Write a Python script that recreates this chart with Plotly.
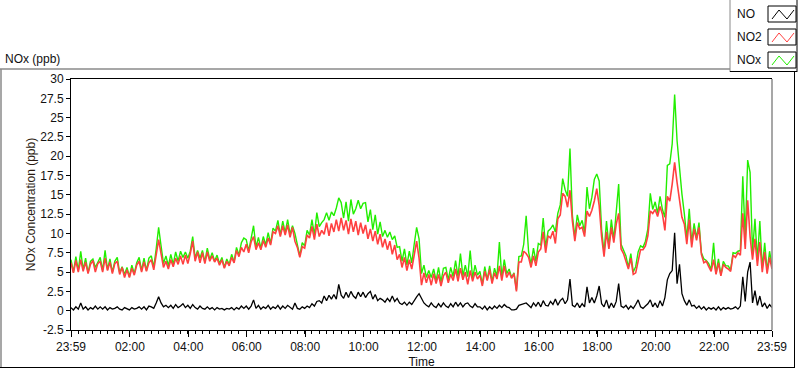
import pandas as pd
import plotly.graph_objects as go

# ---------------- data (5-minute readings, 23:59 -> 23:59) ----------------
start_time = "2013-01-01 23:59"
n_points = 289

no_ppb = [
    0.4, 0.1, 0.5, 0.2, 1.0, 0.2, 0.5, 0.1, 0.4, 0.2, 0.6, 0.2,
    0.5, 0.2, 0.5, 0.1, 0.4, 0.2, 0.3, 0.5, 0.2, 0.1, 0.4, 0.3,
    0.1, 0.4, 0.2, 0.3, 0.5, 0.2, 0.5, 0.1, 0.6, 0.5, 0.3, 1.0,
    1.8, 1.0, 0.5, 0.7, 0.4, 0.7, 0.3, 0.8, 0.4, 0.6, 0.9, 0.4,
    0.7, 0.3, 0.8, 0.4, 0.2, 0.6, 0.3, 0.2, 0.5, 0.2, 0.4, 0.1,
    0.4, 0.2, 0.3, 0.1, 0.3, 0.2, 0.4, 0.1, 0.4, 0.2, 0.6, 0.3,
    0.6, 0.2, 0.6, 1.4, 0.3, 0.7, 0.2, 0.5, 0.3, 0.7, 0.2, 0.5,
    0.3, 0.7, 0.2, 0.6, 0.3, 0.7, 0.4, 0.2, 1.0, 0.3, 0.2, 0.5,
    0.3, 0.6, 0.4, 0.9, 0.6, 1.2, 1.3, 1.0, 1.9, 1.3, 2.0, 1.5,
    2.1, 1.5, 3.4, 2.0, 1.6, 2.4, 1.7, 2.5, 1.9, 1.6, 2.4, 1.8,
    2.4, 1.7, 2.2, 2.5, 1.5, 2.1, 1.3, 1.6, 1.4, 1.1, 1.6, 1.2,
    1.9, 1.2, 1.6, 1.0, 0.8, 1.1, 0.7, 1.1, 0.8, 1.4, 1.8, 2.2,
    1.5, 1.0, 0.7, 0.5, 1.0, 0.6, 0.4, 0.9, 0.5, 1.0, 0.6, 0.4,
    0.9, 0.5, 1.1, 0.6, 1.0, 0.5, 0.9, 1.0, 0.6, 0.4, 0.9, 0.5,
    0.5, 0.2, 0.6, 0.1, 0.5, 0.2, 0.6, 0.3, 0.7, 0.4, 0.8, 0.5,
    0.4, 0.1, 0.1, 0.2, 0.7, 0.8, 0.9, 1.0, 0.7, 0.4, 1.0, 0.6,
    1.1, 0.5, 1.3, 0.7, 0.6, 1.2, 0.8, 1.5, 0.7, 1.3, 1.6, 0.9,
    1.4, 4.1, 0.7, 0.5, 1.0, 0.4, 0.9, 0.5, 3.1, 1.0, 1.7, 1.0,
    1.9, 3.2, 0.9, 0.5, 1.4, 0.3, 1.0, 0.4, 1.2, 3.5, 0.6, 0.4,
    0.7, 0.2, 0.6, 0.3, 0.8, 1.4, 0.5, 0.3, 0.6, 0.9, 1.4, 0.5,
    1.0, 0.4, 1.3, 0.6, 1.7, 4.0, 4.8, 5.2, 10.1, 3.5, 6.0, 2.2,
    1.3, 0.7, 1.4, 0.6, 0.7, 0.3, 0.6, 0.2, 0.5, 0.1, 0.4, 0.2,
    0.4, 0.1, 0.5, 0.1, 0.4, 0.2, 0.4, 0.2, 0.3, 0.5, 0.2, 0.6,
    4.4, 1.2, 5.0, 6.3, 1.0, 2.6, 0.7, 1.9, 0.5, 1.0, 0.3, 0.8,
    0.4,
]

no2_ppb = [
    6.2, 4.9, 6.5, 5.0, 6.6, 5.1, 6.3, 4.8, 6.0, 6.5, 5.0, 6.1,
    6.4, 5.0, 6.8, 5.2, 6.3, 4.8, 6.1, 6.4, 4.7, 5.6, 4.3, 5.3,
    4.3, 5.5, 4.6, 5.9, 6.4, 5.0, 6.3, 5.1, 6.2, 6.6, 5.3, 7.0,
    9.2, 7.4, 5.6, 6.4, 5.4, 6.6, 5.7, 6.8, 6.0, 7.1, 6.0, 7.2,
    6.1, 7.4, 9.0, 6.4, 7.6, 6.2, 7.5, 6.1, 7.6, 6.4, 7.1, 6.3,
    6.8, 5.9, 6.6, 5.5, 6.4, 5.8, 6.9, 6.2, 7.8, 7.0, 8.2, 7.6,
    8.6, 7.5, 8.9, 9.6, 7.9, 8.8, 7.9, 9.1, 8.2, 9.4, 8.5, 10.2,
    10.0, 11.0, 9.6, 11.0, 9.8, 11.1, 9.5, 10.8, 9.0, 8.2, 6.9, 8.3,
    8.1, 9.8, 9.4, 10.9, 9.2, 11.2, 9.6, 10.4, 9.9, 11.4, 9.7, 11.3,
    10.2, 11.8, 10.3, 12.0, 10.4, 11.7, 9.9, 11.9, 10.2, 11.6, 9.8, 11.4,
    10.0, 11.1, 9.3, 10.6, 9.0, 10.3, 8.6, 9.9, 8.2, 9.3, 7.9, 9.0,
    7.3, 8.5, 6.6, 7.3, 5.6, 6.9, 5.2, 6.6, 5.4, 7.2, 9.0, 6.8,
    3.3, 4.9, 3.6, 4.7, 3.3, 4.8, 3.5, 4.7, 3.2, 4.5, 5.0, 3.6,
    4.7, 3.9, 5.4, 3.8, 5.5, 4.0, 5.0, 3.4, 5.2, 3.8, 5.0, 4.1,
    4.6, 3.2, 5.1, 3.9, 5.3, 3.5, 4.9, 4.1, 5.8, 3.9, 5.8, 4.3,
    5.0, 4.2, 4.8, 2.5, 6.3, 6.3, 7.7, 7.4, 6.9, 5.6, 7.1, 5.8,
    7.6, 8.0, 10.2, 7.5, 9.7, 9.4, 10.3, 8.7, 11.9, 12.4, 15.2, 14.8,
    13.4, 15.6, 11.6, 9.0, 11.4, 10.6, 10.8, 9.6, 12.9, 12.2, 13.0, 14.2,
    15.8, 13.6, 9.6, 7.0, 10.2, 8.0, 10.8, 8.8, 11.2, 12.6, 8.0, 7.4,
    6.4, 5.4, 6.8, 4.7, 4.9, 6.2, 7.9, 7.9, 8.4, 9.7, 12.9, 12.6,
    13.1, 12.2, 13.5, 12.5, 10.4, 14.8, 14.2, 16.4, 19.2, 16.6, 14.3, 12.1,
    11.2, 8.6, 11.8, 8.2, 10.6, 9.1, 10.8, 7.3, 6.2, 6.4, 5.7, 5.1,
    6.6, 4.7, 6.2, 4.5, 6.0, 5.6, 5.4, 5.1, 7.2, 6.9, 7.5, 7.2,
    12.6, 8.0, 14.3, 9.6, 6.6, 9.3, 5.8, 8.9, 5.0, 7.6, 4.8, 6.9,
    5.4,
]

nox_ppb = [
    6.6, 5.0, 7.0, 5.2, 7.7, 5.3, 6.8, 4.9, 6.4, 6.7, 5.6, 6.3,
    6.9, 5.2, 7.8, 5.3, 6.7, 5.0, 6.4, 6.9, 4.9, 5.7, 4.7, 5.6,
    4.4, 5.9, 4.8, 6.2, 6.9, 5.2, 6.8, 5.2, 6.8, 7.1, 5.6, 8.0,
    10.8, 8.4, 6.1, 7.1, 5.8, 7.3, 6.0, 7.6, 6.4, 7.7, 6.9, 7.6,
    6.8, 7.7, 9.6, 6.8, 7.8, 6.8, 7.8, 6.3, 8.1, 6.6, 7.5, 6.4,
    7.2, 6.1, 6.9, 5.6, 6.7, 6.0, 7.3, 6.3, 8.2, 7.2, 8.8, 9.4,
    9.2, 7.7, 9.5, 11.0, 8.2, 9.5, 8.1, 9.6, 8.5, 10.1, 8.7, 10.7,
    10.3, 11.7, 9.8, 11.6, 10.1, 11.8, 9.9, 11.0, 10.0, 8.5, 7.1, 8.8,
    8.4, 10.4, 9.8, 11.8, 9.8, 12.7, 10.9, 11.4, 11.8, 12.7, 11.7, 12.8,
    12.3, 13.3, 14.6, 14.0, 12.0, 14.1, 11.6, 14.4, 12.5, 13.2, 14.3, 13.2,
    13.9, 14.0, 11.5, 13.1, 10.5, 12.4, 9.9, 11.5, 9.6, 10.4, 9.5, 10.2,
    9.2, 9.7, 8.2, 8.3, 6.4, 8.0, 5.9, 7.7, 6.2, 8.6, 10.8, 9.3,
    4.8, 5.9, 4.3, 5.2, 4.3, 5.4, 3.9, 5.6, 3.7, 5.5, 5.6, 4.0,
    5.6, 4.4, 6.5, 4.4, 7.4, 4.5, 5.9, 4.4, 7.8, 4.2, 5.9, 4.6,
    5.1, 3.4, 5.7, 4.0, 5.8, 3.7, 5.5, 4.4, 8.9, 4.3, 6.6, 4.8,
    5.4, 4.3, 4.9, 2.7, 7.0, 7.1, 8.6, 12.3, 7.6, 6.0, 8.1, 6.4,
    8.7, 8.5, 12.0, 8.2, 10.3, 10.6, 11.1, 10.2, 12.6, 13.7, 17.1, 15.7,
    14.8, 21.0, 12.3, 9.5, 12.4, 11.0, 11.7, 10.1, 16.0, 13.2, 14.7, 17.0,
    17.7, 16.8, 10.5, 7.5, 11.6, 8.3, 11.8, 9.2, 12.4, 16.4, 8.6, 7.8,
    7.1, 5.6, 7.4, 5.0, 5.7, 7.6, 8.4, 8.2, 9.0, 10.6, 15.2, 13.1,
    14.1, 12.6, 14.8, 13.1, 12.1, 18.8, 19.0, 21.6, 28.0, 22.0, 18.0, 15.1,
    12.5, 9.3, 13.2, 8.8, 11.3, 9.4, 11.4, 7.5, 6.7, 6.5, 6.1, 5.3,
    8.8, 4.8, 6.7, 4.6, 6.4, 5.8, 5.8, 5.3, 7.5, 7.4, 7.7, 7.8,
    17.4, 9.2, 19.5, 17.9, 7.6, 11.9, 6.5, 11.6, 5.5, 8.8, 5.1, 7.7,
    5.8,
]

tick_times = ["2013-01-01 23:59", "2013-01-02 02:00", "2013-01-02 04:00", "2013-01-02 06:00",
              "2013-01-02 08:00", "2013-01-02 10:00", "2013-01-02 12:00", "2013-01-02 14:00",
              "2013-01-02 16:00", "2013-01-02 18:00", "2013-01-02 20:00", "2013-01-02 22:00",
              "2013-01-02 23:59"]
tick_labels = ["23:59", "02:00", "04:00", "06:00", "08:00", "10:00", "12:00", "14:00",
               "16:00", "18:00", "20:00", "22:00", "23:59"]
y_ticks = [-2.5, 0, 2.5, 5, 7.5, 10, 12.5, 15, 17.5, 20, 22.5, 25, 27.5, 30]
y_tick_labels = ["-2.5", "0", "2.5", "5", "7.5", "10", "12.5", "15", "17.5", "20",
                 "22.5", "25", "27.5", "30"]

series_names = ["NO", "NO2", "NOx"]
series_colors = ["#000000", "#FF4040", "#22EE00"]

times = pd.date_range(start_time, periods=n_points, freq="5min")

# ---------------- figure ----------------
W, H = 800, 369
L, R, T, B = 71, 772, 79, 330


def px(xp):
    return (xp - L) / (R - L)


def py(yp):
    return (B - yp) / (B - T)


FONT = "Liberation Sans"
TXT = "#111111"

fig = go.Figure()
# draw NOx first, then NO2, then NO on top
for name, vals, col, lw in [("NOx", nox_ppb, series_colors[2], 1.4),
                            ("NO2", no2_ppb, series_colors[1], 1.6),
                            ("NO", no_ppb, series_colors[0], 1.3)]:
    fig.add_trace(go.Scatter(x=times, y=vals, name=name, mode="lines",
                             line=dict(color=col, width=lw), showlegend=False))

shapes = []
# outer panel frame (sunken look)
shapes.append(dict(type="line", xref="paper", yref="paper", x0=px(0), x1=px(730), y0=py(69), y1=py(69),
                   line=dict(color="#8a8a8a", width=1.5)))
shapes.append(dict(type="line", xref="paper", yref="paper", x0=px(1), x1=px(1), y0=py(69), y1=py(368),
                   line=dict(color="#8a8a8a", width=1.5)))
shapes.append(dict(type="line", xref="paper", yref="paper", x0=px(0), x1=px(795), y0=py(367.5), y1=py(367.5),
                   line=dict(color="#000000", width=1)))
shapes.append(dict(type="line", xref="paper", yref="paper", x0=px(794.5), x1=px(794.5), y0=py(72), y1=py(368),
                   line=dict(color="#000000", width=1)))
# plot area right edge (gray)
shapes.append(dict(type="line", xref="paper", yref="paper", x0=1, x1=1, y0=0, y1=1,
                   line=dict(color="#8a8a8a", width=1.5)))

# legend box
shapes.append(dict(type="line", xref="paper", yref="paper", x0=px(730), x1=px(730), y0=py(0), y1=py(72),
                   line=dict(color="#8a8a8a", width=1)))
shapes.append(dict(type="line", xref="paper", yref="paper", x0=px(730), x1=px(797), y0=py(71.5), y1=py(71.5),
                   line=dict(color="#000000", width=1)))
shapes.append(dict(type="line", xref="paper", yref="paper", x0=px(797), x1=px(797), y0=py(0), y1=py(72),
                   line=dict(color="#000000", width=1)))
annotations = []
box_tops = [6, 29, 52]
for name, col, top in zip(series_names, series_colors, box_tops):
    shapes.append(dict(type="rect", xref="paper", yref="paper",
                       x0=px(768), x1=px(796), y0=py(top), y1=py(top + 16),
                       line=dict(color="#000000", width=1), fillcolor="white"))
    pts = [(772, top + 13), (779, top + 4), (787, top + 13), (794, top + 4)]
    path = "M " + " L ".join(f"{px(a):.5f},{py(b):.5f}" for a, b in pts)
    shapes.append(dict(type="path", xref="paper", yref="paper", path=path,
                       line=dict(color=col, width=1)))
    annotations.append(dict(text=name, xref="paper", yref="paper", x=px(735), y=py(top + 8),
                            xanchor="left", yanchor="middle", showarrow=False,
                            font=dict(family=FONT, size=12, color=TXT)))

fig.update_layout(
    width=W, height=H,
    margin=dict(l=L, r=W - R, t=T, b=H - B, autoexpand=False),
    paper_bgcolor="white", plot_bgcolor="white",
    font=dict(family=FONT, size=12, color=TXT),
    title=dict(text="NOx (ppb)", xref="container", yref="container", x=5 / W, y=1 - 59 / H,
               xanchor="left", yanchor="middle", font=dict(family=FONT, size=12, color=TXT)),
    shapes=shapes, annotations=annotations,
    showlegend=False,
)
fig.update_xaxes(
    range=[times[0], times[-1]],
    tickvals=pd.to_datetime(tick_times), ticktext=tick_labels,
    ticks="outside", ticklen=6, tickcolor="black", tickwidth=1,
    minor=dict(dtick=15 * 60 * 1000, tick0=start_time, ticks="outside", ticklen=3,
               tickcolor="black", showgrid=False),
    showline=True, linecolor="black", linewidth=1, mirror=True,
    showgrid=False, zeroline=False,
    title=dict(text="Time", standoff=4, font=dict(family=FONT, size=12, color=TXT)),
    tickfont=dict(family=FONT, size=12, color=TXT),
)
fig.update_yaxes(
    range=[-2.5, 30], tickvals=y_ticks, ticktext=y_tick_labels,
    ticks="outside", ticklen=4, tickcolor="black",
    showline=True, linecolor="black", linewidth=1,
    showgrid=False, zeroline=False,
    title=dict(text="NOx Concentration (ppb)", standoff=2,
               font=dict(family=FONT, size=12, color="#2a1a10")),
    tickfont=dict(family=FONT, size=12, color=TXT),
)

fig.write_html(
    "out.html",
    config={"displayModeBar": False},
    post_script="document.body.style.margin='0';document.body.style.overflow='hidden';",
)
